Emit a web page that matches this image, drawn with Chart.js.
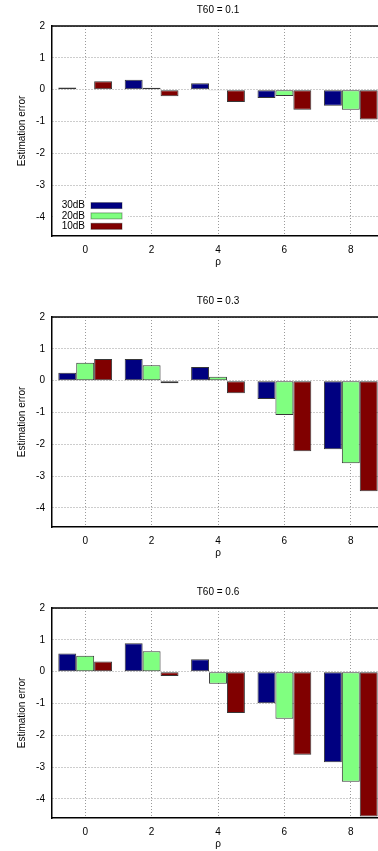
<!DOCTYPE html>
<html>
<head>
<meta charset="utf-8">
<script src="https://cdn.jsdelivr.net/npm/chart.js@4/dist/chart.umd.min.js"></script>
<style>
  html, body { margin: 0; padding: 0; background: #fff; overflow: hidden; width: 378px; height: 851px; }
  .panel { position: absolute; left: 0; width: 384px; height: 269px; }
</style>
</head>
<body>
<div class="panel" style="top:0px"><canvas id="c0" width="384" height="269"></canvas></div>
<div class="panel" style="top:291px"><canvas id="c1" width="384" height="269"></canvas></div>
<div class="panel" style="top:582px"><canvas id="c2" width="384" height="269"></canvas></div>
<script>
// rho values on the x axis, one group of bars per value
const rho = ['0', '2', '4', '6', '8'];
const yTicks = [-4, -3, -2, -1, 0, 1, 2];
const snrLabels = ['30dB', '20dB', '10dB'];
const snrColors = ['#000080', '#80ff80', '#800000'];
const t60 = ['0.1', '0.3', '0.6'];

// estimation error, T60 = 0.1
const t01_30dB = [0.07, 0.31, 0.20, -0.26, -0.51];
const t01_20dB = [-0.02, 0.06, -0.01, -0.20, -0.63];
const t01_10dB = [0.26, -0.21, -0.39, -0.63, -0.94];
// T60 = 0.3
const t03_30dB = [0.25, 0.68, 0.43, -0.58, -2.16];
const t03_20dB = [0.56, 0.48, 0.12, -1.08, -2.60];
const t03_10dB = [0.68, -0.08, -0.40, -2.22, -3.48];
// T60 = 0.6
const t06_30dB = [0.57, 0.89, 0.39, -0.99, -2.85];
const t06_20dB = [0.50, 0.64, -0.38, -1.48, -3.46];
const t06_10dB = [0.32, -0.14, -1.30, -2.61, -4.55];

const panels = [
    [t01_30dB, t01_20dB, t01_10dB],
    [t03_30dB, t03_20dB, t03_10dB],
    [t06_30dB, t06_20dB, t06_10dB]
];

const font = { family: '"Liberation Sans", Arial, sans-serif', size: 10 };

// top border of the plot box (gnuplot style)
const frame = {
    id: 'frame',
    afterDraw(chart) {
        const { ctx, chartArea: a } = chart;
        ctx.save();
        ctx.strokeStyle = '#000';
        ctx.lineWidth = 1.5;
        ctx.beginPath();
        ctx.moveTo(a.left, a.top);
        ctx.lineTo(a.right, a.top);
        ctx.stroke();
        ctx.restore();
    }
};

// key in the lower left corner, text first then the sample
const keyBox = {
    id: 'keyBox',
    afterDatasetsDraw(chart) {
        const { ctx, chartArea: a } = chart;
        ctx.save();
        ctx.fillStyle = '#fff';
        ctx.fillRect(a.left + 1, a.bottom - 37, 75, 36);
        ctx.font = '10px "Liberation Sans", Arial, sans-serif';
        ctx.textAlign = 'right';
        ctx.textBaseline = 'middle';
        const rows = [30.4, 20.1, 9.7];
        chart.data.datasets.forEach((ds, i) => {
            const y = a.bottom - rows[i];
            ctx.fillStyle = '#000';
            ctx.fillText(ds.label, a.left + 33, y);
            ctx.fillStyle = ds.backgroundColor;
            ctx.fillRect(a.left + 39, y - 3, 31, 6);
            ctx.strokeStyle = 'rgba(0,0,0,0.35)';
            ctx.lineWidth = 1;
            ctx.strokeRect(a.left + 39, y - 3, 31, 6);
        });
        ctx.restore();
    }
};

panels.forEach((series, p) => {
    const ctx = document.getElementById('c' + p).getContext('2d');
    new Chart(ctx, {
        type: 'bar',
        data: {
            labels: rho,
            datasets: series.map((vals, i) => ({
                label: snrLabels[i],
                data: vals,
                backgroundColor: snrColors[i],
                borderColor: 'rgba(20,20,20,0.85)',
                borderWidth: 1,
                borderSkipped: false,
                categoryPercentage: 0.81,
                barPercentage: 1.0
            }))
        },
        options: {
            responsive: false,
            animation: false,
            layout: { padding: 0 },
            plugins: {
                legend: { display: false },
                tooltip: { enabled: false },
                title: {
                    display: true,
                    text: 'T60 = ' + t60[p],
                    fullSize: false,
                    color: '#000',
                    font: { ...font, weight: 'normal' },
                    padding: { top: 4, bottom: 10 }
                }
            },
            scales: {
                x: {
                    offset: true,
                    grid: { offset: false, color: '#9a9a9a', drawTicks: false },
                    border: { display: true, color: '#000', width: 1.5, dash: [1, 2] },
                    ticks: { color: '#000', font, padding: 8, maxRotation: 0 },
                    title: { display: true, text: 'ρ', color: '#000', font, padding: { top: 4, bottom: 1 } },
                    afterFit(scale) { scale.height = 33; }
                },
                y: {
                    min: -4.6,
                    max: 2,
                    afterBuildTicks(scale) { scale.ticks = yTicks.map(v => ({ value: v })); },
                    grid: { color: '#9a9a9a', drawTicks: false },
                    border: { display: true, color: '#000', width: 1.5, dash: [1, 2] },
                    ticks: { color: '#000', font, padding: 7 },
                    title: { display: true, text: 'Estimation error', color: '#000', font, padding: { top: 16, bottom: 0 } },
                    afterFit(scale) { scale.width = 52; }
                }
            }
        },
        plugins: p === 0 ? [frame, keyBox] : [frame]
    });
});
</script>
</body>
</html>
